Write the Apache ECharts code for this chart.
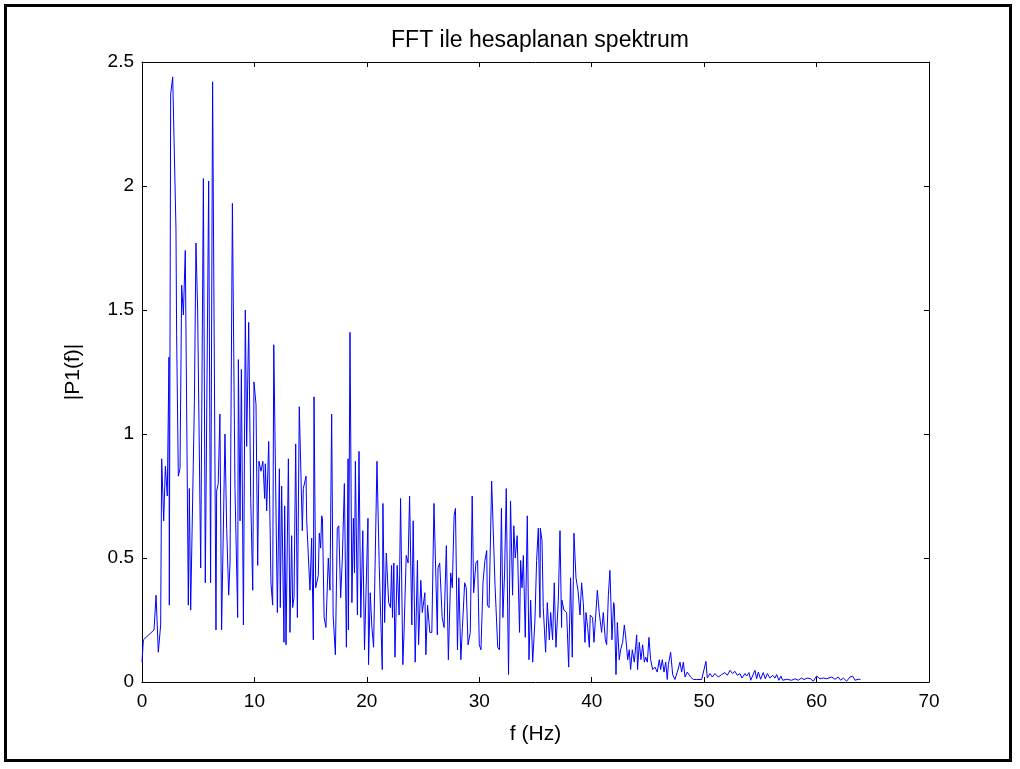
<!DOCTYPE html>
<html>
<head>
<meta charset="utf-8">
<script src="https://cdn.jsdelivr.net/npm/echarts@6/dist/echarts.min.js"></script>
<style>
  html, body { margin: 0; padding: 0; background: #fff; }
  #wrap { position: relative; width: 1020px; height: 769px; }
  #chart { width: 1020px; height: 769px; }
  #frame {
    position: absolute; left: 4px; top: 4px; width: 1008px; height: 758px;
    border: 3px solid #000; box-sizing: border-box; pointer-events: none;
  }
</style>
</head>
<body>
<div id="wrap">
  <div id="chart"></div>
  <div id="frame"></div>
</div>
<script>
const titleText = 'FFT ile hesaplanan spektrum';
const xName = 'f (Hz)';
const yName = '|P1(f)|';

// frequency (Hz) of each point
const freqHz = [
  0.00, 0.12, 1.07, 1.25, 1.45, 1.66, 1.75, 1.93, 2.08, 2.25, 2.40, 2.43, 2.55, 2.73, 3.02, 3.08,
  3.23, 3.38, 3.53, 3.68, 3.85, 4.12, 4.21, 4.33, 4.66, 4.80, 4.95, 5.22, 5.46, 5.63, 5.93, 6.10,
  6.28, 6.58, 6.64, 6.78, 6.93, 7.08, 7.38, 7.53, 7.71, 7.83, 8.04, 8.27, 8.51, 8.57, 8.72, 8.84,
  9.02, 9.19, 9.31, 9.49, 9.67, 9.85, 9.96, 10.14, 10.29, 10.40, 10.58, 10.75, 10.91, 10.97, 11.09, 11.27,
  11.47, 11.62, 11.72, 12.04, 12.22, 12.30, 12.42, 12.63, 12.69, 12.81, 13.02, 13.16, 13.31, 13.40, 13.52, 13.67,
  13.82, 13.99, 14.26, 14.35, 14.59, 14.65, 14.94, 15.09, 15.24, 15.30, 15.45, 15.68, 15.77, 15.89, 15.98, 16.05,
  16.20, 16.36, 16.57, 16.72, 16.87, 17.00, 17.20, 17.37, 17.50, 17.67, 17.82, 18.00, 18.18, 18.33, 18.36, 18.50,
  18.67, 18.80, 18.90, 18.98, 19.16, 19.30, 19.46, 19.64, 19.79, 19.94, 20.10, 20.15, 20.30, 20.45, 20.60, 20.90,
  21.10, 21.37, 21.43, 21.58, 21.73, 21.94, 22.10, 22.20, 22.28, 22.40, 22.50, 22.70, 22.87, 23.00, 23.20, 23.30,
  23.50, 23.67, 23.80, 24.00, 24.12, 24.30, 24.50, 24.60, 24.80, 24.93, 25.16, 25.25, 25.40, 25.60, 25.78, 25.97,
  26.27, 26.33, 26.48, 26.70, 26.87, 26.93, 27.07, 27.25, 27.46, 27.60, 27.76, 27.88, 28.06, 28.18, 28.36, 28.50,
  28.70, 28.84, 29.00, 29.20, 29.37, 29.50, 29.70, 29.85, 30.00, 30.15, 30.33, 30.50, 30.66, 30.72, 30.87, 31.10,
  31.40, 31.64, 31.79, 31.97, 32.10, 32.25, 32.40, 32.52, 32.60, 32.78, 32.96, 33.07, 33.20, 33.37, 33.58, 33.68,
  33.80, 33.92, 34.09, 34.27, 34.42, 34.57, 34.75, 34.95, 35.10, 35.25, 35.40, 35.43, 35.58, 35.69, 35.90, 36.05,
  36.23, 36.35, 36.52, 36.67, 36.82, 37.03, 37.18, 37.32, 37.35, 37.53, 37.77, 37.95, 38.12, 38.27, 38.42, 38.60,
  38.78, 38.96, 39.10, 39.25, 39.40, 39.49, 39.64, 39.79, 39.87, 39.97, 40.08, 40.20, 40.35, 40.50, 40.67, 40.88,
  41.03, 41.21, 41.33, 41.48, 41.62, 41.71, 41.80, 41.95, 42.01, 42.16, 42.28, 42.45, 42.57, 42.75, 42.90, 43.05,
  43.20, 43.34, 43.46, 43.61, 43.79, 44.00, 44.08, 44.23, 44.38, 44.53, 44.68, 44.80, 44.95, 45.09, 45.24, 45.42,
  45.63, 45.83, 46.01, 46.13, 46.28, 46.43, 46.58, 46.72, 46.82, 47.02, 47.20, 47.40, 47.61, 47.85, 48.00, 48.15,
  48.30, 48.50, 48.80, 49.05, 49.33, 49.48, 49.78, 50.16, 50.28, 50.52, 50.73, 50.96, 51.26, 51.56, 51.85, 52.06,
  52.30, 52.53, 52.74, 52.95, 53.19, 53.36, 53.63, 53.78, 53.99, 54.14, 54.52, 54.67, 54.82, 55.02, 55.26, 55.44,
  55.62, 55.85, 56.09, 56.30, 56.45, 56.65, 56.83, 56.98, 57.34, 57.78, 58.08, 58.37, 58.67, 58.88, 59.17, 59.47,
  59.71, 60.00, 60.30, 60.60, 60.90, 61.34, 61.64, 61.93, 62.14, 62.38, 62.67, 62.97, 63.21, 63.42, 63.71, 63.90
];

// single-sided amplitude |P1(f)| at each frequency above
const p1Mag = [
  0.08, 0.17, 0.21, 0.35, 0.12, 0.23, 0.90, 0.65, 0.87, 0.75, 1.31, 0.31, 2.37, 2.44, 1.83, 1.40,
  0.83, 0.86, 1.60, 1.48, 1.74, 0.31, 0.78, 0.29, 1.13, 1.77, 1.50, 0.46, 2.03, 0.40, 2.02, 0.40,
  2.42, 0.21, 0.77, 0.80, 1.08, 0.21, 1.00, 0.62, 0.35, 0.48, 1.93, 0.78, 0.26, 1.30, 0.65, 1.26,
  0.23, 1.50, 0.95, 1.45, 0.74, 0.37, 1.21, 1.12, 0.47, 0.89, 0.85, 0.89, 0.74, 0.88, 0.69, 0.97,
  0.40, 0.31, 1.36, 0.28, 0.86, 0.30, 0.79, 0.16, 0.71, 0.15, 0.90, 0.20, 0.59, 0.30, 0.34, 0.96,
  0.26, 1.11, 0.61, 0.78, 0.83, 0.65, 0.37, 0.58, 0.17, 1.15, 0.38, 0.43, 0.60, 0.54, 0.67, 0.66,
  0.26, 0.22, 0.50, 0.37, 1.08, 0.27, 0.11, 0.62, 0.63, 0.34, 0.50, 0.80, 0.14, 0.90, 0.21, 1.41,
  0.32, 0.66, 0.44, 0.89, 0.27, 0.93, 0.26, 0.61, 0.13, 0.13, 0.66, 0.07, 0.36, 0.22, 0.14, 0.89,
  0.47, 0.05, 0.72, 0.24, 0.52, 0.32, 0.30, 0.47, 0.26, 0.48, 0.10, 0.47, 0.27, 0.74, 0.07, 0.19,
  0.51, 0.48, 0.75, 0.23, 0.65, 0.08, 0.49, 0.15, 0.41, 0.28, 0.36, 0.11, 0.31, 0.20, 0.20, 0.72,
  0.19, 0.46, 0.48, 0.26, 0.22, 0.33, 0.55, 0.09, 0.44, 0.38, 0.67, 0.70, 0.13, 0.42, 0.09, 0.22,
  0.40, 0.38, 0.15, 0.20, 0.75, 0.36, 0.48, 0.49, 0.15, 0.13, 0.40, 0.49, 0.53, 0.31, 0.30, 0.81,
  0.39, 0.14, 0.13, 0.70, 0.26, 0.44, 0.78, 0.31, 0.03, 0.73, 0.35, 0.63, 0.50, 0.59, 0.20, 0.49,
  0.38, 0.51, 0.18, 0.67, 0.09, 0.33, 0.08, 0.25, 0.49, 0.62, 0.26, 0.62, 0.57, 0.30, 0.12, 0.32,
  0.17, 0.28, 0.17, 0.40, 0.14, 0.33, 0.61, 0.22, 0.33, 0.29, 0.28, 0.06, 0.42, 0.10, 0.60, 0.42,
  0.37, 0.27, 0.40, 0.32, 0.16, 0.28, 0.22, 0.14, 0.27, 0.27, 0.26, 0.16, 0.16, 0.37, 0.28, 0.20,
  0.28, 0.17, 0.15, 0.35, 0.45, 0.32, 0.17, 0.32, 0.31, 0.03, 0.24, 0.09, 0.13, 0.16, 0.23, 0.17,
  0.09, 0.13, 0.05, 0.13, 0.08, 0.19, 0.05, 0.16, 0.09, 0.15, 0.08, 0.10, 0.08, 0.18, 0.09, 0.05,
  0.06, 0.04, 0.09, 0.05, 0.09, 0.04, 0.08, 0.01, 0.07, 0.12, 0.03, 0.01, 0.04, 0.08, 0.04, 0.08,
  0.02, 0.04, 0.02, 0.01, 0.01, 0.007, 0.01, 0.083, 0.016, 0.034, 0.02, 0.034, 0.02, 0.03, 0.038, 0.027,
  0.047, 0.034, 0.043, 0.027, 0.034, 0.016, 0.034, 0.024, 0.038, 0.007, 0.047, 0.013, 0.04, 0.011, 0.038, 0.013,
  0.034, 0.016, 0.027, 0.016, 0.03, 0.007, 0.024, 0.007, 0.011, 0.007, 0.013, 0.007, 0.016, 0.01, 0.016, 0.013,
  0.003, 0.024, 0.013, 0.016, 0.013, 0.02, 0.011, 0.02, 0.007, 0.016, 0.003, 0.02, 0.024, 0.007, 0.011, 0.01
];

const chart = echarts.init(document.getElementById('chart'), null, { renderer: 'canvas' });

const font = 'Arial, "Liberation Sans", Helvetica, sans-serif';
const black = '#000';

const axisCommon = {
  axisLine: { show: true, onZero: false, lineStyle: { color: black, width: 1 } },
  axisTick: { show: true, inside: true, length: 5, lineStyle: { color: black } },
  splitLine: { show: false },
};

const option = {
  animation: false,
  backgroundColor: '#fff',
  title: {
    text: titleText,
    left: 535, top: 24, textAlign: 'center',
    textStyle: { fontFamily: font, fontSize: 23, fontWeight: 'normal', color: black }
  },
  grid: { left: 142, right: 91, top: 62, bottom: 87 },
  xAxis: [
    {
      ...axisCommon, type: 'value', position: 'bottom', min: 0, max: 70, interval: 10,
      name: xName, nameLocation: 'middle', nameGap: 42,
      nameTextStyle: { fontFamily: font, fontSize: 21, color: black },
      axisLabel: { fontFamily: font, fontSize: 19, color: black, margin: 10 }
    },
    {
      ...axisCommon, type: 'value', position: 'top', min: 0, max: 70, interval: 10,
      axisLabel: { show: false }
    }
  ],
  yAxis: [
    {
      ...axisCommon, type: 'value', position: 'left', min: 0, max: 2.5, interval: 0.5,
      name: yName, nameLocation: 'middle', nameGap: 58,
      nameTextStyle: { fontFamily: font, fontSize: 21, color: black },
      axisLabel: { fontFamily: font, fontSize: 19, color: black, margin: 8 }
    },
    {
      ...axisCommon, type: 'value', position: 'right', min: 0, max: 2.5, interval: 0.5,
      axisLabel: { show: false }
    }
  ],
  series: [
    {
      type: 'line',
      xAxisIndex: 0, yAxisIndex: 0,
      data: freqHz.map((f, i) => [f, p1Mag[i]]),
      showSymbol: false,
      lineStyle: { color: '#0000ff', width: 1 },
      silent: true
    }
  ]
};

chart.setOption(option);
</script>
</body>
</html>
